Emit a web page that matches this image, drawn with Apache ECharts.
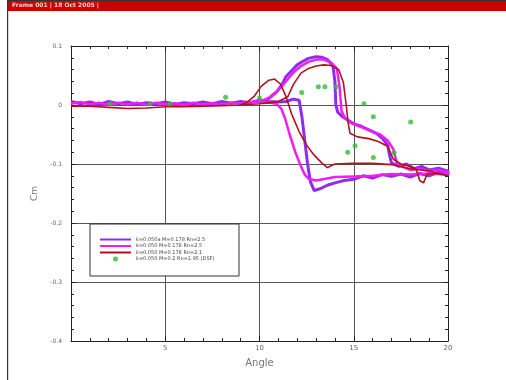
<!DOCTYPE html>
<html>
<head>
<meta charset="utf-8">
<script src="https://cdn.jsdelivr.net/npm/echarts@6/dist/echarts.min.js"></script>
<style>
  html, body { margin: 0; padding: 0; background: #ffffff; }
  #chart { width: 506px; height: 380px; }
</style>
</head>
<body>
<div id="chart"></div>
<script>
// Pitch-oscillation hysteresis loops: moment coefficient Cm against angle (deg).
// Each run is a list of [angle, Cm] pairs in the order they were recorded
// (upstroke first, then the return stroke).

const frameHeader = 'Frame 001 | 18 Oct 2005 |';

const seriesNames = [
  'k=0.050a M=0.178 Rn=2.5',
  'k=0.050 M=0.178 Rn=2.5',
  'k=0.050 M=0.178 Rn=2.1',
  'k=0.050 M=0.2 Rn=1.95 (DSF)'
];

const xTicks = { min: 0, max: 20, step: 5 };
const yTicks = { min: -0.4, max: 0.1, step: 0.1 };

// Run 1 (violet)
const runViolet = [
  [0.0,0.006],[0.5,0.002],[1.0,0.005],[1.5,0.001],[2.0,0.006],[2.5,0.002],[3.0,0.005],[3.5,0.001],
  [4.0,0.004],[4.5,0.002],[5.0,0.005],[5.5,0.001],[6.0,0.004],[6.5,0.002],[7.0,0.005],[7.5,0.002],
  [8.0,0.006],[8.5,0.003],[9.0,0.006],[9.5,0.004],[10.0,0.008],[10.3,0.006],[10.6,0.014],[10.9,0.022],
  [11.2,0.035],[11.4,0.048],[11.7,0.058],[12.0,0.068],[12.3,0.074],[12.6,0.079],[13.0,0.082],[13.3,0.081],
  [13.6,0.077],[13.9,0.066],[14.0,0.04],[14.05,0.0],[14.15,-0.012],[14.4,-0.02],[14.7,-0.026],[15.0,-0.032],
  [15.4,-0.036],[15.8,-0.042],[16.2,-0.048],[16.5,-0.056],[16.8,-0.068],[16.9,-0.085],[17.0,-0.098],
  [17.4,-0.104],[17.8,-0.1],[18.2,-0.108],[18.6,-0.104],[19.0,-0.11],[19.5,-0.107],[20.0,-0.112],
  [20.0,-0.118],[19.5,-0.114],[19.0,-0.12],[18.5,-0.116],[18.0,-0.122],[17.5,-0.117],[17.0,-0.121],
  [16.5,-0.118],[16.0,-0.124],[15.5,-0.12],[15.0,-0.126],[14.5,-0.128],[14.0,-0.132],[13.6,-0.136],
  [13.2,-0.142],[12.9,-0.145],[12.7,-0.13],[12.55,-0.1],[12.4,-0.06],[12.25,-0.02],[12.1,0.008],
  [11.8,0.01],[11.4,0.006],[11.0,0.005],[10.5,0.006],[10.0,0.004]
];

// Run 2 (magenta)
const runMagenta = [
  [0.0,0.002],[0.5,0.005],[1.0,0.001],[1.5,0.004],[2.0,0.0],[2.5,0.004],[3.0,0.001],[3.5,0.004],
  [4.0,0.0],[4.5,0.004],[5.0,0.001],[5.5,0.003],[6.0,0.0],[6.5,0.004],[7.0,0.001],[7.5,0.003],
  [8.0,0.001],[8.5,0.004],[9.0,0.002],[9.5,0.005],[10.0,0.006],[10.5,0.012],[11.0,0.025],[11.4,0.04],
  [11.8,0.055],[12.2,0.066],[12.6,0.073],[13.0,0.077],[13.4,0.077],[13.8,0.072],[14.1,0.062],
  [14.25,0.03],[14.35,-0.01],[14.5,-0.02],[14.8,-0.03],[15.2,-0.035],[15.6,-0.04],[16.0,-0.045],
  [16.4,-0.05],[16.8,-0.06],[17.1,-0.075],[17.3,-0.1],[17.6,-0.105],[18.0,-0.11],[18.5,-0.108],
  [19.0,-0.112],[19.5,-0.11],[20.0,-0.114],
  [20.0,-0.118],[19.0,-0.116],[18.0,-0.118],[17.0,-0.117],[16.0,-0.12],[15.0,-0.121],[14.0,-0.122],
  [13.5,-0.125],[13.0,-0.128],[12.6,-0.125],[12.4,-0.118],[12.2,-0.104],[11.9,-0.08],[11.6,-0.05],
  [11.35,-0.022],[11.15,-0.006],[10.9,0.002],[10.5,0.004],[10.0,0.004]
];

// Run 3 (dark red)
const runRed = [
  [0.0,-0.002],[1.0,-0.002],[2.0,-0.004],[3.0,-0.006],[4.0,-0.005],[5.0,-0.003],[6.0,-0.003],
  [7.0,-0.002],[8.0,-0.001],[9.0,0.0],[10.0,0.002],[10.6,0.004],[11.0,0.006],[11.5,0.014],
  [11.8,0.035],[12.2,0.054],[12.6,0.062],[13.0,0.066],[13.4,0.068],[13.8,0.067],[14.2,0.06],
  [14.45,0.038],[14.6,0.0],[14.7,-0.03],[14.8,-0.048],[15.2,-0.054],[15.8,-0.057],[16.3,-0.062],
  [16.8,-0.07],[17.1,-0.092],[17.5,-0.1],[18.0,-0.104],[18.3,-0.108],[18.5,-0.128],[18.7,-0.132],
  [18.9,-0.117],[19.4,-0.116],[20.0,-0.12],
  [20.0,-0.118],[19.0,-0.112],[18.0,-0.108],[17.0,-0.101],[16.0,-0.099],[15.0,-0.099],[14.0,-0.1],
  [13.6,-0.106],[13.3,-0.098],[12.9,-0.085],[12.5,-0.068],[12.1,-0.045],[11.7,-0.015],[11.4,0.015],
  [11.1,0.036],[10.8,0.044],[10.5,0.042],[10.1,0.032],[9.7,0.014],[9.3,0.004],[9.0,0.0]
];

// Reference points (green)
const refPoints = [
  [2.1,0.002],[4.2,0.002],[5.25,0.002],[8.2,0.013],[10.0,0.012],[12.24,0.021],[13.12,0.031],
  [13.47,0.031],[14.06,0.031],[15.54,0.002],[16.04,-0.02],[18.02,-0.029],[15.07,-0.069],
  [14.68,-0.08],[16.04,-0.089],[17.14,-0.081]
];

const colors = ['#8f2cf0', '#f01ef0', '#b3121a', '#33bb33'];

const chart = echarts.init(document.getElementById('chart'), null, { renderer: 'canvas' });

const axisBase = {
  type: 'value',
  axisLine: { show: true, onZero: false, lineStyle: { color: '#222', width: 1 } },
  axisTick: { show: true, inside: true, length: 5, lineStyle: { color: '#222' } },
  minorTick: { show: true, splitNumber: 5, length: 3, lineStyle: { color: '#222' } }
};

const fmt = v => String(+v.toFixed(1));

chart.setOption({
  animation: false,
  backgroundColor: '#ffffff',
  grid: { left: 71, right: 58, top: 46, bottom: 39, containLabel: false },
  graphic: [
    { type: 'rect', z: 100, shape: { x: 7, y: 0, width: 499, height: 1.2 }, style: { fill: '#333' } },
    { type: 'rect', z: 100, shape: { x: 8, y: 1, width: 498, height: 10 }, style: { fill: '#cc0000' } },
    { type: 'text', z: 101, left: 12, top: 2, style: { text: frameHeader, fill: '#f4d0d0', font: 'bold 6px "DejaVu Sans"' } },
    { type: 'rect', z: 100, shape: { x: 7, y: 0, width: 1.2, height: 380 }, style: { fill: '#333' } },
    { type: 'rect', z: 20, shape: { x: 90, y: 224, width: 149, height: 52 }, style: { fill: '#ffffff', stroke: '#333', lineWidth: 1 } }
  ],
  legend: {
    z: 30,
    orient: 'vertical',
    left: 99,
    top: 237,
    itemWidth: 31,
    itemHeight: 5,
    itemGap: 1.5,
    padding: 0,
    textStyle: { fontSize: 5, lineHeight: 5, color: '#444', fontFamily: 'DejaVu Sans' },
    data: seriesNames.map((n, i) => i === 3
      ? { name: n, icon: 'circle' }
      : { name: n, itemStyle: { opacity: 0 }, lineStyle: { width: 2 } })
  },
  xAxis: [
    Object.assign({}, axisBase, {
      position: 'bottom',
      min: xTicks.min, max: xTicks.max, interval: xTicks.step,
      name: 'Angle', nameLocation: 'middle', nameGap: 17,
      nameTextStyle: { fontSize: 10, color: '#777', fontFamily: 'DejaVu Sans' },
      axisLabel: { fontSize: 7, color: '#666', margin: 4, showMinLabel: false, fontFamily: 'DejaVu Sans' },
      splitLine: { show: true, lineStyle: { color: '#555', width: 1 } }
    }),
    Object.assign({}, axisBase, {
      position: 'top',
      min: xTicks.min, max: xTicks.max, interval: xTicks.step,
      axisLabel: { show: false },
      splitLine: { show: false }
    })
  ],
  yAxis: [
    Object.assign({}, axisBase, {
      position: 'left',
      min: yTicks.min, max: yTicks.max, interval: yTicks.step,
      name: 'Cm', nameLocation: 'middle', nameGap: 28,
      nameTextStyle: { fontSize: 9, color: '#777', fontFamily: 'DejaVu Sans' },
      axisLabel: { fontSize: 6, color: '#666', margin: 9, formatter: fmt, fontFamily: 'DejaVu Sans' },
      splitLine: { show: true, lineStyle: { color: '#555', width: 1 } }
    }),
    Object.assign({}, axisBase, {
      position: 'right',
      min: yTicks.min, max: yTicks.max, interval: yTicks.step,
      axisLabel: { show: false },
      splitLine: { show: false }
    })
  ],
  series: [
    { name: seriesNames[0], type: 'line', data: runViolet, symbol: 'none', z: 3,
      lineStyle: { color: colors[0], width: 3 }, itemStyle: { color: colors[0] } },
    { name: seriesNames[1], type: 'line', data: runMagenta, symbol: 'none', z: 4,
      lineStyle: { color: colors[1], width: 2.5 }, itemStyle: { color: colors[1] } },
    { name: seriesNames[2], type: 'line', data: runRed, symbol: 'none', z: 5,
      lineStyle: { color: colors[2], width: 1.6 }, itemStyle: { color: colors[2] } },
    { name: seriesNames[3], type: 'scatter', data: refPoints, symbol: 'circle', symbolSize: 5, z: 6,
      itemStyle: { color: colors[3] } }
  ]
});
</script>
</body>
</html>
